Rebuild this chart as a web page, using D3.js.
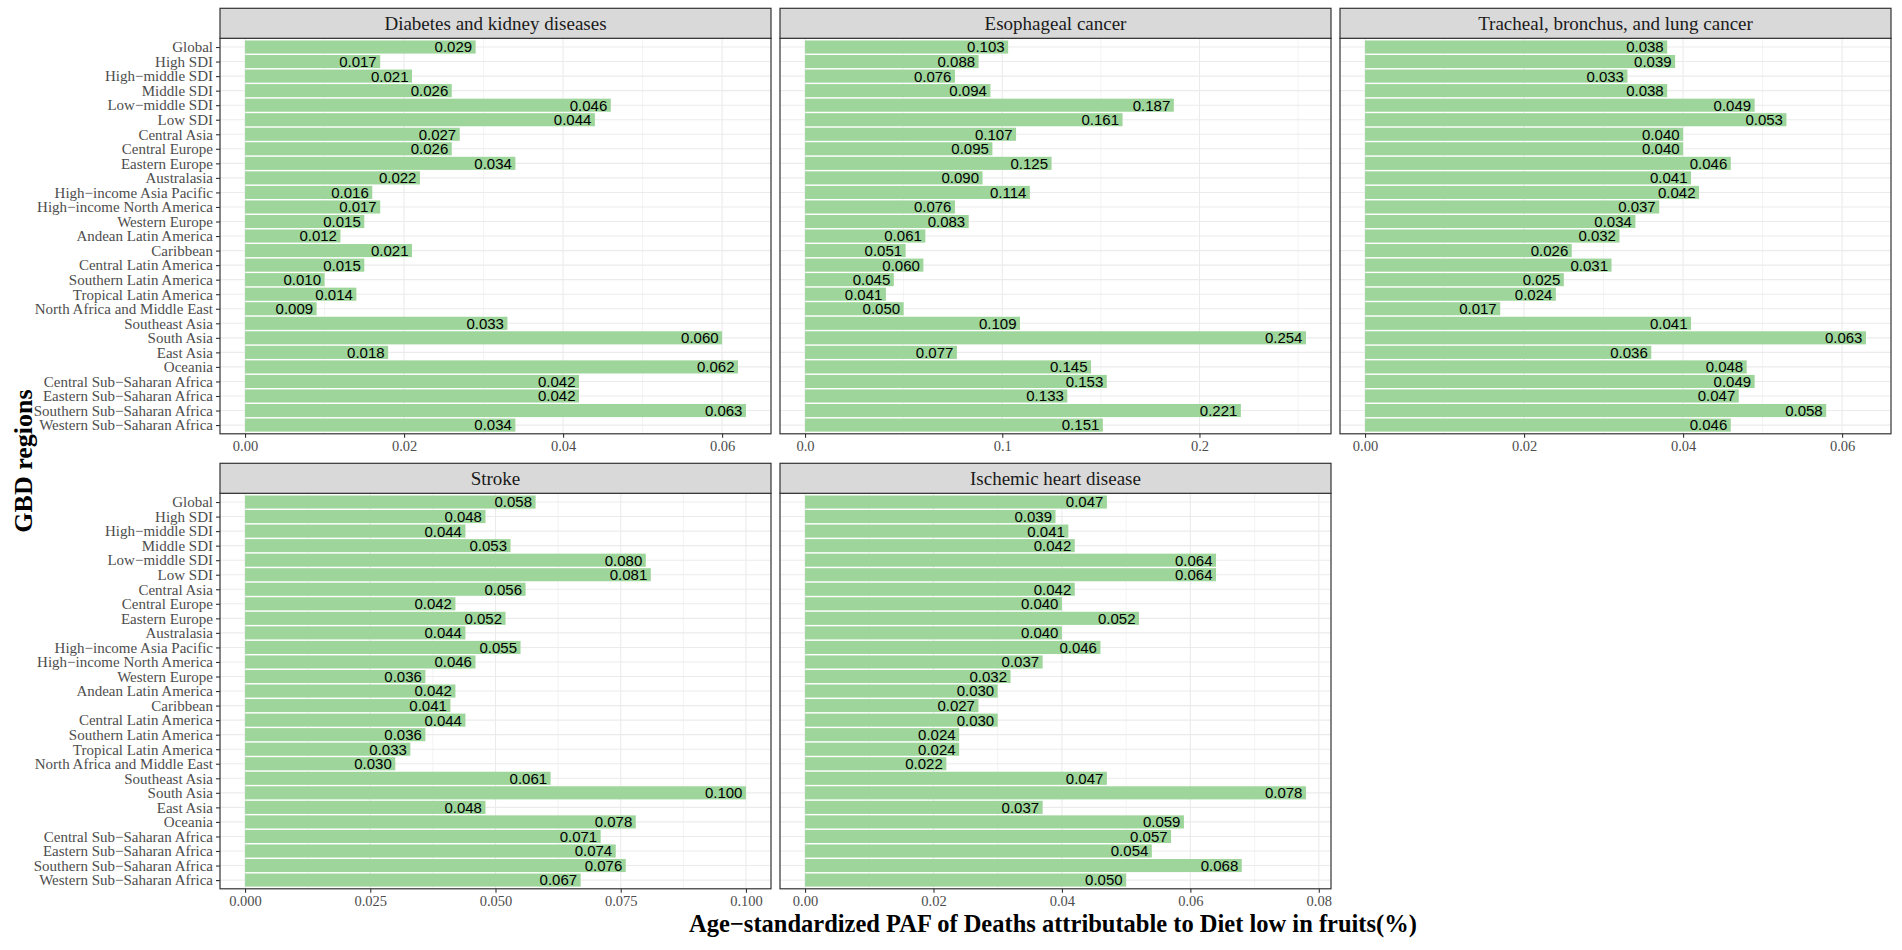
<!DOCTYPE html>
<html>
<head>
<meta charset="utf-8">
<script src="https://cdn.jsdelivr.net/npm/d3@7"></script>
<style>
body{margin:0;background:#fff;}
svg{display:block;}
</style>
</head>
<body>
<svg id="chart" width="1902" height="950"></svg>
<script>
const regions = ["Global","High SDI","High\u2212middle SDI","Middle SDI","Low\u2212middle SDI","Low SDI","Central Asia","Central Europe","Eastern Europe","Australasia","High\u2212income Asia Pacific","High\u2212income North America","Western Europe","Andean Latin America","Caribbean","Central Latin America","Southern Latin America","Tropical Latin America","North Africa and Middle East","Southeast Asia","South Asia","East Asia","Oceania","Central Sub\u2212Saharan Africa","Eastern Sub\u2212Saharan Africa","Southern Sub\u2212Saharan Africa","Western Sub\u2212Saharan Africa"];

const causes = ["Diabetes and kidney diseases","Esophageal cancer","Tracheal, bronchus, and lung cancer","Stroke","Ischemic heart disease"];

const diabetes = [0.029,0.017,0.021,0.026,0.046,0.044,0.027,0.026,0.034,0.022,0.016,0.017,0.015,0.012,0.021,0.015,0.010,0.014,0.009,0.033,0.060,0.018,0.062,0.042,0.042,0.063,0.034];
const esophageal = [0.103,0.088,0.076,0.094,0.187,0.161,0.107,0.095,0.125,0.090,0.114,0.076,0.083,0.061,0.051,0.060,0.045,0.041,0.050,0.109,0.254,0.077,0.145,0.153,0.133,0.221,0.151];
const lung = [0.038,0.039,0.033,0.038,0.049,0.053,0.040,0.040,0.046,0.041,0.042,0.037,0.034,0.032,0.026,0.031,0.025,0.024,0.017,0.041,0.063,0.036,0.048,0.049,0.047,0.058,0.046];
const stroke = [0.058,0.048,0.044,0.053,0.080,0.081,0.056,0.042,0.052,0.044,0.055,0.046,0.036,0.042,0.041,0.044,0.036,0.033,0.030,0.061,0.100,0.048,0.078,0.071,0.074,0.076,0.067];
const ihd = [0.047,0.039,0.041,0.042,0.064,0.064,0.042,0.040,0.052,0.040,0.046,0.037,0.032,0.030,0.027,0.030,0.024,0.024,0.022,0.047,0.078,0.037,0.059,0.057,0.054,0.068,0.050];

const xTicks = [
  [0,0.02,0.04,0.06],
  [0,0.1,0.2],
  [0,0.02,0.04,0.06],
  [0,0.025,0.05,0.075,0.1],
  [0,0.02,0.04,0.06,0.08]
];
const tickFormats = [".2f",".1f",".2f",".3f",".2f"];
const seriesList = [diabetes, esophageal, lung, stroke, ihd];

const xTitle = "Age\u2212standardized PAF of Deaths attributable to Diet low in fruits(%)";
const yTitle = "GBD regions";

// layout
const colX = [220, 780, 1340];
const panelW = 551;
const rowStripTop = [8.3, 463.3];
const stripH = 30;
const panelH = 395.5;
const barColor = "#9dd59a";

const svg = d3.select("#chart");
const serif = "'Liberation Serif','Times New Roman',serif";
const sans = "'Liberation Sans',Arial,sans-serif";

seriesList.forEach((vals, i) => {
  const col = i % 3, row = Math.floor(i / 3);
  const x0 = colX[col];
  const sTop = rowStripTop[row];
  const pTop = sTop + stripH;
  const g = svg.append("g");

  const maxV = d3.max(vals);
  const pad = maxV * 0.05;
  const x = d3.scaleLinear().domain([-pad, maxV + pad]).range([x0, x0 + panelW]);
  const y = d3.scalePoint().domain(regions).range([pTop, pTop + panelH]).padding(0.6);
  const step = y.step();

  g.append("rect").attr("x", x0).attr("y", pTop).attr("width", panelW).attr("height", panelH).attr("fill", "#fff");

  // minor grid
  const ticks = xTicks[i];
  const d = ticks[1] - ticks[0];
  const minors = [];
  for (let k = -1; k <= ticks.length; k++) {
    const m = ticks[0] + d * k + d / 2;
    if (m > x.domain()[0] && m < x.domain()[1]) minors.push(m);
  }
  g.selectAll(".minor").data(minors).join("line")
    .attr("x1", v => x(v)).attr("x2", v => x(v))
    .attr("y1", pTop).attr("y2", pTop + panelH)
    .attr("stroke", "#ebebeb").attr("stroke-width", 0.6);
  g.selectAll(".majx").data(ticks).join("line")
    .attr("x1", v => x(v)).attr("x2", v => x(v))
    .attr("y1", pTop).attr("y2", pTop + panelH)
    .attr("stroke", "#ebebeb").attr("stroke-width", 1.1);
  g.selectAll(".majy").data(regions).join("line")
    .attr("x1", x0).attr("x2", x0 + panelW)
    .attr("y1", r => y(r)).attr("y2", r => y(r))
    .attr("stroke", "#ebebeb").attr("stroke-width", 1.1);

  // bars
  g.selectAll(".bar").data(vals).join("rect")
    .attr("x", x(0))
    .attr("y", (v, j) => y(regions[j]) - step * 0.45)
    .attr("width", v => x(v) - x(0))
    .attr("height", step * 0.9)
    .attr("fill", barColor);

  // labels
  g.selectAll(".lab").data(vals).join("text")
    .attr("x", v => x(v) - 3.5)
    .attr("y", (v, j) => y(regions[j]))
    .attr("dy", "0.36em")
    .attr("text-anchor", "end")
    .attr("font-family", sans)
    .attr("font-size", 15)
    .attr("fill", "#000")
    .text(v => d3.format(".3f")(v));

  // border
  g.append("rect").attr("x", x0).attr("y", pTop).attr("width", panelW).attr("height", panelH)
    .attr("fill", "none").attr("stroke", "#333").attr("stroke-width", 1.2);

  // strip
  g.append("rect").attr("x", x0).attr("y", sTop).attr("width", panelW).attr("height", stripH)
    .attr("fill", "#d9d9d9").attr("stroke", "#333").attr("stroke-width", 1.2);
  g.append("text").attr("x", x0 + panelW / 2).attr("y", sTop + stripH / 2).attr("dy", "0.35em")
    .attr("text-anchor", "middle").attr("font-family", serif).attr("font-size", 19)
    .attr("fill", "#1a1a1a").text(causes[i]);

  // x axis
  const xa = d3.axisBottom(x).tickValues(ticks).tickFormat(d3.format(tickFormats[i])).tickSize(4).tickPadding(3);
  const ax = g.append("g").attr("transform", `translate(0,${pTop + panelH})`).call(xa);
  ax.select(".domain").remove();
  ax.selectAll(".tick line").attr("stroke", "#333").attr("stroke-width", 1.1);
  ax.selectAll(".tick text").attr("font-family", serif).attr("font-size", 14.5).attr("fill", "#4d4d4d");

  // y axis on first column
  if (col === 0) {
    const ya = d3.axisLeft(y).tickSize(4).tickPadding(3);
    const ay = g.append("g").attr("transform", `translate(${x0},0)`).call(ya);
    ay.select(".domain").remove();
    ay.selectAll(".tick line").attr("stroke", "#333").attr("stroke-width", 1.1);
    ay.selectAll(".tick text").attr("font-family", serif).attr("font-size", 15).attr("fill", "#4d4d4d");
  }
});

svg.append("text").attr("x", 1053).attr("y", 932)
  .attr("text-anchor", "middle").attr("font-family", serif).attr("font-weight", "bold")
  .attr("font-size", 24.5).attr("fill", "#000").text(xTitle);

svg.append("text").attr("transform", `translate(32,461) rotate(-90)`)
  .attr("text-anchor", "middle").attr("font-family", serif).attr("font-weight", "bold")
  .attr("font-size", 26).attr("fill", "#000").text(yTitle);
</script>
</body>
</html>
